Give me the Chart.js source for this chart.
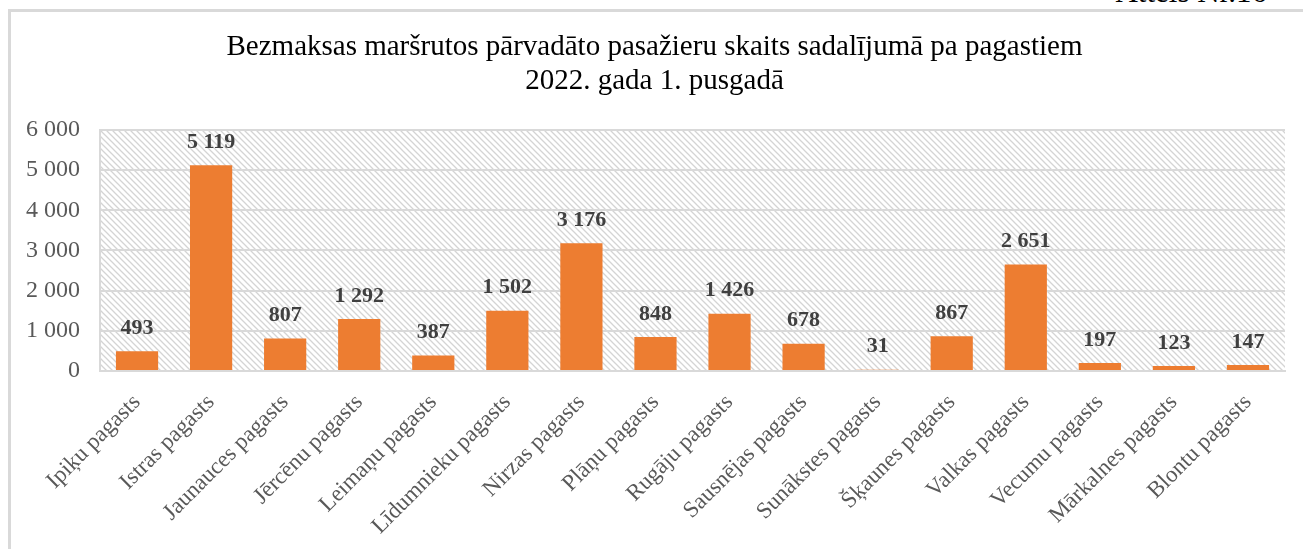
<!DOCTYPE html>
<html>
<head>
<meta charset="utf-8">
<script src="https://cdn.jsdelivr.net/npm/chart.js@4.4.0/dist/chart.umd.min.js"></script>
<style>
  html, body { margin: 0; padding: 0; background: #fff; overflow: hidden; }
  body { width: 1303px; height: 549px; position: relative; font-family: "Liberation Serif", serif; }
  .frame { position: absolute; left: 8px; top: 9px; width: 1320px; height: 560px; border: 3px solid #d9d9d9; }
  .figno { position: absolute; right: 36px; top: -24px; font-size: 31px; line-height: 31px; color: #000; }
  #wrap { position: absolute; left: 0; top: 0; width: 1303px; height: 549px; }
</style>
</head>
<body>
<div class="figno">Attēls Nr.16</div>
<div class="frame"></div>
<div id="wrap"><canvas id="chart"></canvas></div>
<script>
// ----- data -----
const categories = [
  'Ipiķu pagasts', 'Istras pagasts', 'Jaunauces pagasts', 'Jērcēnu pagasts',
  'Leimaņu pagasts', 'Līdumnieku pagasts', 'Nirzas pagasts', 'Plāņu pagasts',
  'Rugāju pagasts', 'Sausnējas pagasts', 'Sunākstes pagasts', 'Šķaunes pagasts',
  'Valkas pagasts', 'Vecumu pagasts', 'Mārkalnes pagasts', 'Blontu pagasts'
];
const passengers = [493, 5119, 807, 1292, 387, 1502, 3176, 848, 1426, 678, 31, 867, 2651, 197, 123, 147];
const yTicks = [0, 1000, 2000, 3000, 4000, 5000, 6000];
const titleLines = [
  'Bezmaksas maršrutos pārvadāto pasažieru skaits sadalījumā pa pagastiem',
  '2022. gada 1. pusgadā'
];

const fmt = v => String(v).replace(/\B(?=(\d{3})+(?!\d))/g, ' ');

// diagonal hatch for the plot area
function makeHatch() {
  const c = document.createElement('canvas');
  c.width = 6; c.height = 6;
  const g = c.getContext('2d');
  g.fillStyle = '#fff';
  g.fillRect(0, 0, 6, 6);
  g.strokeStyle = '#d4d4d4';
  g.lineWidth = 1.3;
  g.beginPath();
  g.moveTo(-1, -1); g.lineTo(7, 7);
  g.moveTo(-4, 2); g.lineTo(2, 8);
  g.moveTo(2, -4); g.lineTo(8, 2);
  g.stroke();
  return g.createPattern(c, 'repeat');
}

const hatchBg = {
  id: 'hatchBg',
  beforeDraw(chart) {
    const { ctx, chartArea: a } = chart;
    ctx.save();
    ctx.fillStyle = makeHatch();
    ctx.fillRect(a.left, a.top, a.right - a.left, a.bottom - a.top);
    ctx.restore();
  }
};

const barLabels = {
  id: 'barLabels',
  afterDatasetsDraw(chart) {
    const { ctx } = chart;
    const meta = chart.getDatasetMeta(0);
    ctx.save();
    ctx.font = 'bold 22px "Liberation Serif"';
    ctx.fillStyle = '#404040';
    ctx.textAlign = 'center';
    ctx.textBaseline = 'middle';
    meta.data.forEach((bar, i) => {
      ctx.fillText(fmt(passengers[i]), bar.x, bar.y - 23);
    });
    ctx.restore();
  }
};

new Chart(document.getElementById('chart'), {
  type: 'bar',
  data: {
    labels: categories,
    datasets: [{
      data: passengers,
      backgroundColor: '#ed7d31',
      categoryPercentage: 1,
      barPercentage: 0.57
    }]
  },
  options: {
    responsive: true,
    maintainAspectRatio: false,
    animation: false,
    layout: { padding: { top: 13, right: 18, left: 24, bottom: 0 } },
    plugins: {
      legend: { display: false },
      tooltip: { enabled: false },
      title: {
        display: true,
        text: titleLines,
        color: '#000',
        font: { family: '"Liberation Serif"', size: 29, weight: 'normal', lineHeight: 1.17 },
        padding: { top: 17, bottom: 32 }
      }
    },
    scales: {
      x: {
        grid: { display: false },
        border: { display: true, color: '#d9d9d9', width: 2 },
        ticks: {
          autoSkip: false,
          minRotation: 45,
          maxRotation: 45,
          padding: 10,
          color: '#595959',
          font: { family: '"Liberation Serif"', size: 23 }
        },
        afterFit(scale) { scale.height = 178; }
      },
      y: {
        min: 0,
        max: 6000,
        afterBuildTicks(scale) { scale.ticks = yTicks.map(v => ({ value: v })); },
        grid: { color: '#d9d9d9', lineWidth: 2, drawTicks: false },
        border: { display: true, color: '#d9d9d9', width: 2 },
        ticks: {
          padding: 20,
          color: '#595959',
          font: { family: '"Liberation Serif"', size: 24 },
          callback: v => fmt(v)
        },
        afterFit(scale) { scale.width = 76; }
      }
    }
  },
  plugins: [hatchBg, barLabels]
});
</script>
</body>
</html>
